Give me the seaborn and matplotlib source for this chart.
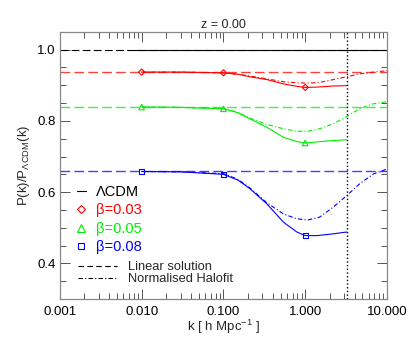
import numpy as np
import pandas as pd
import matplotlib
matplotlib.use("Agg")
import matplotlib.pyplot as plt
from matplotlib.lines import Line2D
from matplotlib.ticker import FixedLocator, MultipleLocator
import seaborn as sns

# Valores
labels = ["β=0.03", "β=0.05", "β=0.08"]
cores = ["#ff0000", "#00ee00", "#0000ff"]
marcadores = ["D", "^", "s"]
tamanhos = [10, 16, 14]

linear = [1.0, 0.937, 0.839, 0.659]
k_cdm = [0.008, 10.0]
k_lin = [0.001, 10.0]

k_sol = [0.01, 0.03, 0.1, 0.15, 0.21, 0.34, 0.54, 0.79, 1.0, 1.4, 2.2, 3.2]
sol_003 = [0.937, 0.937, 0.935, 0.931, 0.924, 0.916, 0.904, 0.897, 0.894, 0.895, 0.898, 0.899]
sol_005 = [0.839, 0.838, 0.834, 0.823, 0.806, 0.782, 0.754, 0.742, 0.738, 0.741, 0.745, 0.747]
sol_008 = [0.658, 0.657, 0.650, 0.634, 0.610, 0.567, 0.516, 0.488, 0.478, 0.478, 0.483, 0.488]

k_halo = [0.01, 0.03, 0.1, 0.15, 0.21, 0.34, 0.54, 0.79, 1.08, 1.5, 2.2, 3.2, 4.6, 6.8, 10.0]
halo_003 = [0.937, 0.937, 0.935, 0.931, 0.926, 0.918, 0.910, 0.907, 0.906, 0.908, 0.916, 0.924, 0.932, 0.937, 0.941]
halo_005 = [0.839, 0.838, 0.835, 0.824, 0.808, 0.790, 0.778, 0.771, 0.771, 0.778, 0.792, 0.812, 0.834, 0.848, 0.854]
halo_008 = [0.658, 0.657, 0.652, 0.636, 0.612, 0.570, 0.539, 0.525, 0.522, 0.530, 0.558, 0.590, 0.623, 0.651, 0.665]

k_pts = [0.01, 0.1, 1.0]
k_corte = 3.2

sol = [sol_003, sol_005, sol_008]
halo = [halo_003, halo_005, halo_008]

sns.set_style("ticks")
plt.rcParams["font.family"] = ["Liberation Sans", "DejaVu Sans"]
plt.rcParams["mathtext.fontset"] = "custom"
plt.rcParams["mathtext.rm"] = "Liberation Sans"
plt.rcParams["mathtext.it"] = "Liberation Sans"

fig = plt.figure(figsize=(4.07, 3.39), dpi=100)
ax = fig.add_axes([0.147, 0.118, 0.804, 0.788])

tracejado = (0, (7, 3))
tracoponto = (0, (4, 2, 1, 2))
lw = 0.8

# Linha LCDM
sns.lineplot(x=k_lin, y=[linear[0]] * 2, color="black", lw=lw, ax=ax, linestyle=tracejado)
sns.lineplot(x=k_cdm, y=[linear[0]] * 2, color="black", lw=lw, ax=ax)

for i in range(3):
    c = cores[i]
    sns.lineplot(x=k_lin, y=[linear[i + 1]] * 2, color=c, lw=lw + 0.2, alpha=0.75,
                 ax=ax, linestyle=tracejado)
    sns.lineplot(x=k_sol, y=sol[i], color=c, lw=lw, ax=ax)
    sns.lineplot(x=k_halo, y=halo[i], color=c, lw=lw, ax=ax, linestyle=tracoponto)
    pts = [sol[i][k_sol.index(k)] for k in k_pts]
    sns.scatterplot(x=k_pts, y=pts, marker=marcadores[i], s=tamanhos[i], facecolor="none",
                    edgecolor=c, linewidth=0.8, ax=ax, zorder=5)

ax.axvline(k_corte, color="black", ls=":", lw=1.0)

ax.set_xscale("log")
ax.set_xlim(0.001, 10)
ax.set_ylim(0.3, 1.05)
ax.set_xticks([0.001, 0.01, 0.1, 1, 10])
ax.set_xticklabels(["0.001", "0.010", "0.100", "1.000", "10.000"])
ax.yaxis.set_major_locator(FixedLocator([0.4, 0.6, 0.8, 1.0]))
ax.yaxis.set_minor_locator(MultipleLocator(0.05))
ax.set_yticklabels(["0.4", "0.6", "0.8", "1.0"])

ax.tick_params(which="both", direction="in", top=True, right=True, colors="#555555",
               labelcolor="black", labelsize=9.5, width=0.7)
ax.tick_params(which="major", length=7)
ax.tick_params(which="minor", length=4)
ax.tick_params(axis="x", which="major", pad=5)
ax.tick_params(axis="y", which="major", pad=3)
for s in ax.spines.values():
    s.set_color("#888888")
    s.set_linewidth(0.9)

ax.set_title("z = 0.00", fontsize=9, pad=2.5)
ax.set_xlabel("k [ h Mpc$^{-1}$ ]", fontsize=9.5, labelpad=0)
ax.set_ylabel("P(k)/P$_{\\Lambda\\mathrm{CDM}}$(k)", fontsize=9.5)
ax.yaxis.set_label_coords(-0.086, 0.5)

# Legendas
msizes = [4.2, 5.2, 5.0]
h1 = [Line2D([], [], color="black", lw=lw)]
for i in range(3):
    h1.append(Line2D([], [], ls="none", marker=marcadores[i], markersize=msizes[i],
                     markerfacecolor="none", markeredgecolor=cores[i], markeredgewidth=0.8))
leg1 = ax.legend(h1, ["ΛCDM"] + labels, loc="upper left", bbox_to_anchor=(0.012, 0.476),
                 frameon=False, fontsize=10.5, handlelength=0.6, handletextpad=0.7,
                 labelspacing=0.3, labelcolor=["black"] + cores)
ax.add_artist(leg1)
h2 = [Line2D([], [], color="black", lw=lw, ls=(0, (5, 3))),
      Line2D([], [], color="black", lw=lw, ls=tracoponto)]
ax.legend(h2, ["Linear solution", "Normalised Halofit"], loc="upper left",
          bbox_to_anchor=(0.02, 0.185), frameon=False, fontsize=9.3, handlelength=3.0,
          handletextpad=0.9, labelspacing=0.0)

fig.savefig("out.png", dpi=100)
